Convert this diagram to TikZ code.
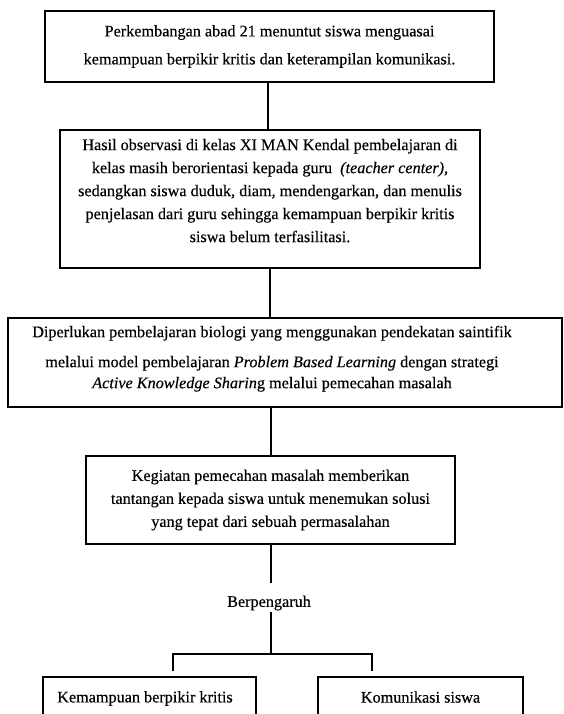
\documentclass[tikz,border=0pt]{standalone}
\usepackage{fontspec}
\setmainfont{Liberation Serif}[FakeBold=0.35]
\begin{document}
\begin{tikzpicture}[x=1pt,y=1pt,
  box/.style={draw, line width=1.6pt, align=center, inner sep=0pt, font=\fontsize{16.2}{23}\selectfont},
  conn/.style={line width=1.4pt},
  lbl/.style={inner sep=1pt, font=\fontsize{16.2}{23}\selectfont}]
\useasboundingbox (0,0) rectangle (563,-714);
\clip (0,0) rectangle (563,-714);
\node[box, minimum width=449pt, minimum height=71pt] (b1) at (269.5,-46.5)
  {Perkembangan abad 21 menuntut siswa menguasai\\[5pt]
   kemampuan berpikir kritis dan keterampilan komunikasi.};
\node[box, minimum width=420pt, minimum height=138pt] (b2) at (270,-199)
  {Hasil observasi di kelas XI MAN Kendal pembelajaran di\\
   kelas masih berorientasi kepada guru \ \textit{(teacher center),}\\
   sedangkan siswa duduk, diam, mendengarkan, dan menulis\\
   penjelasan dari guru sehingga kemampuan berpikir kritis\\
   siswa belum terfasilitasi.\\[-6pt]\mbox{}};
\node[box, minimum width=554pt, minimum height=89pt] (b3) at (285,-362.5)
  {\hspace*{-26pt}Diperlukan pembelajaran biologi yang menggunakan pendekatan saintifik\\[7pt]
   \hspace*{-26pt}melalui model pembelajaran \textit{Problem Based Learning} dengan strategi\\[-2pt]
   \hspace*{-26pt}\textit{Active Knowledge Sharin}g melalui pemecahan masalah\\[-12pt]\mbox{}};
\node[box, minimum width=369pt, minimum height=88pt] (b4) at (270.5,-500)
  {Kegiatan pemecahan masalah memberikan\\
   tantangan kepada siswa untuk menemukan solusi\\
   yang tepat dari sebuah permasalahan};
\node[lbl] (ber) at (269,-603) {Berpengaruh};
\node[box, minimum width=213pt, minimum height=43pt] (k1) at (149.5,-698.5)
  {\hspace*{-9pt}\raisebox{3pt}{Kemampuan berpikir kritis}};
\node[box, minimum width=205pt, minimum height=43pt] (k2) at (420.5,-698.5)
  {\raisebox{3pt}{Komunikasi siswa}};
\coordinate (c1) at (271,-583);
\coordinate (s) at (271,-654);
\coordinate (l) at (173,-671);
\coordinate (r) at (372,-671);
\draw[conn] (b1.south -| 268,0) -- (b2.north -| 268,0);
\draw[conn] (b2.south) -- (b2.south |- b3.north);
\draw[conn] (b3.south -| c1) -- (b4.north -| c1);
\draw[conn] (b4.south -| c1) -- (c1);
\draw[conn] (ber.south -| s) -- (s);
\draw[conn] (l) -- (l |- s) -- (r |- s) -- (r);
\end{tikzpicture}
\end{document}
